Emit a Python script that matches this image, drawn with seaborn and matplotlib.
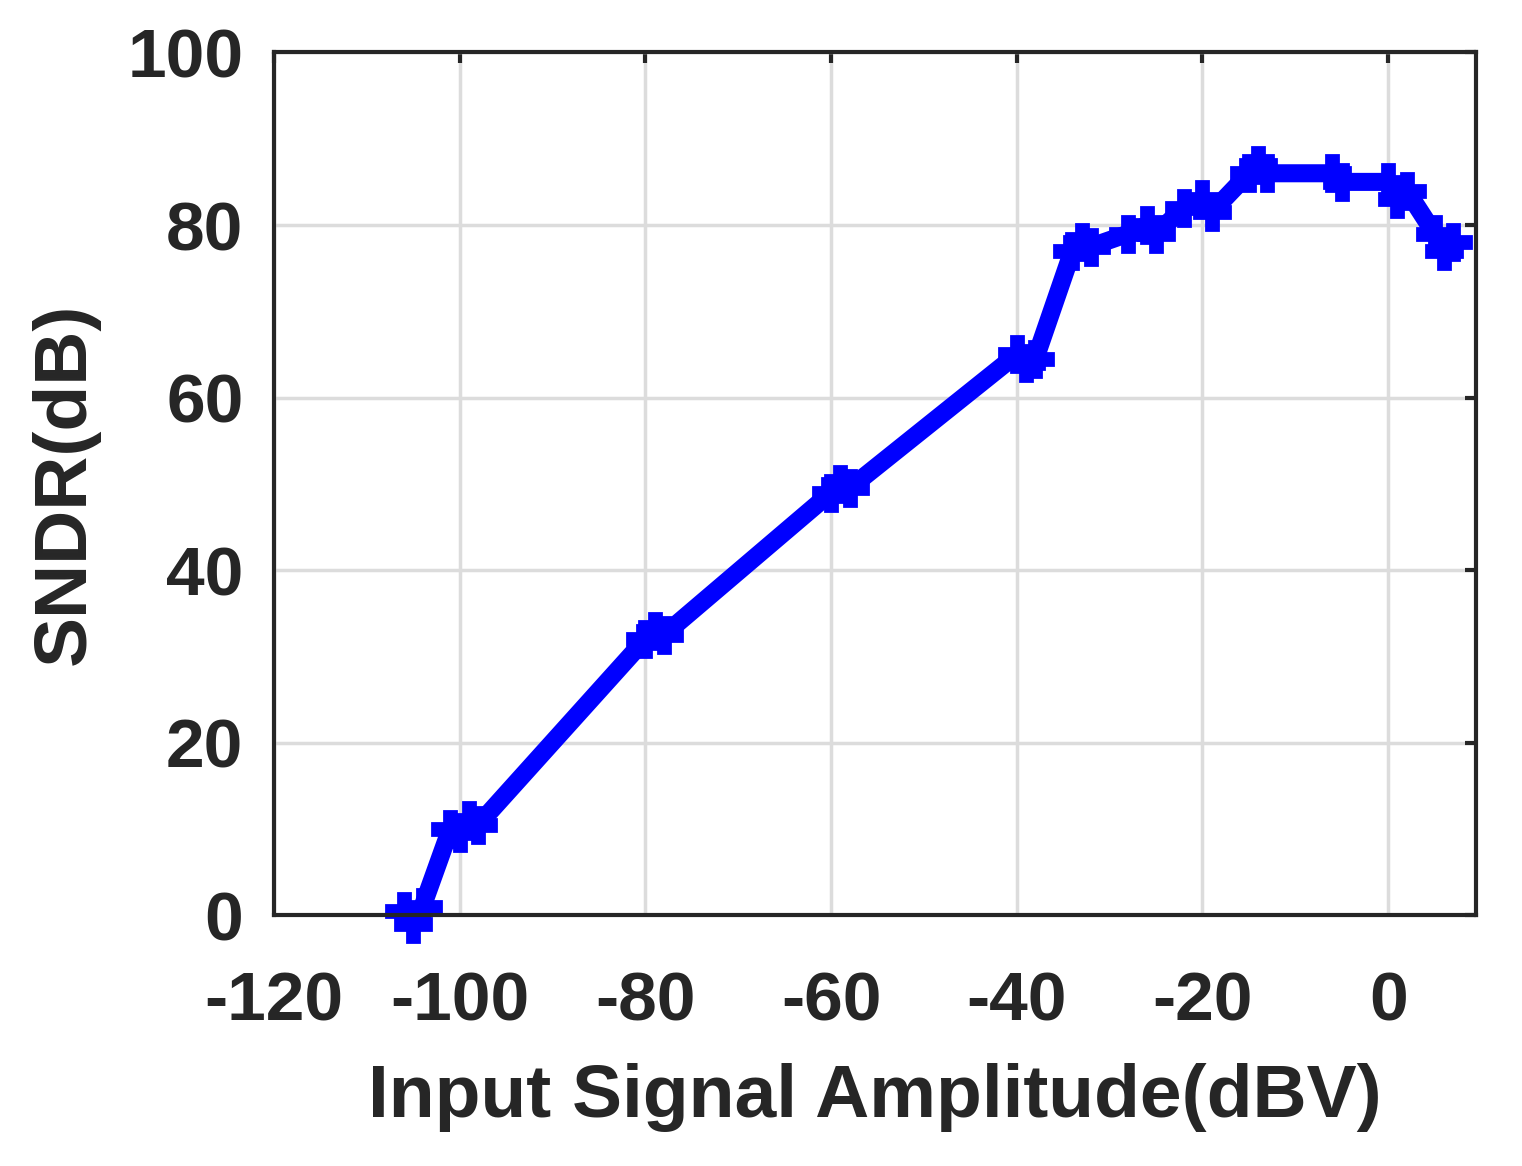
import numpy as np
import pandas as pd
import matplotlib
matplotlib.use("Agg")
import matplotlib.pyplot as plt
import seaborn as sns

# values
amp_dbv = [-106, -105, -104, -101, -100, -99, -98, -80, -79, -78,
           -60, -59, -58, -40, -39, -38, -34, -33, -32, -28, -26, -25,
           -22, -20, -19, -15, -14, -13, -6, -5, 0, 1, 2, 5, 6, 7]
sndr_db = [0.5, -1, 1, 10, 9.5, 11, 10.5, 32, 33, 32.5,
           49, 50, 49.5, 65, 64, 64.5, 77, 78, 77.5, 79, 80, 79,
           82, 83, 81.5, 86, 87, 86, 86, 85, 85, 83, 84, 79, 77, 78]

df = pd.DataFrame({"x": amp_dbv, "y": sndr_db})

sns.set_style("whitegrid")
plt.rcParams['font.family'] = ['Liberation Sans', 'DejaVu Sans']
plt.rcParams['axes.unicode_minus'] = False
fig, ax = plt.subplots(figsize=(15.22, 11.66), dpi=100)
fig.subplots_adjust(left=0.18, right=0.97, bottom=0.215, top=0.955)

sns.lineplot(data=df, x="x", y="y", ax=ax, color="#0000ff", linewidth=13,
             marker="P", markersize=26, markeredgewidth=2,
             markeredgecolor="#0000ff", sort=False)

ax.set_xlim(-120, 9.5)
ax.set_ylim(0, 100)
ax.set_xticks(range(-120, 1, 20))
ax.set_yticks(range(0, 101, 20))
ax.grid(True, color="#dcdcdc", linewidth=2.5)
for s in ax.spines.values():
    s.set_color("#262626")
    s.set_linewidth(3)
ax.tick_params(direction="in", length=8, width=3, labelsize=50,
               top=True, right=True, colors="#262626")
ax.tick_params(axis="x", pad=40)
ax.tick_params(axis="y", pad=22)
for lab in ax.get_xticklabels() + ax.get_yticklabels():
    lab.set_fontweight("bold")
ax.set_xlabel("Input Signal Amplitude(dBV)", fontsize=54, fontweight="bold",
              color="#262626", labelpad=20)
ax.set_ylabel("SNDR(dB)", fontsize=54, fontweight="bold", color="#262626", labelpad=20)
for l in ax.lines:
    l.set_clip_on(False)

fig.savefig("out.png")
